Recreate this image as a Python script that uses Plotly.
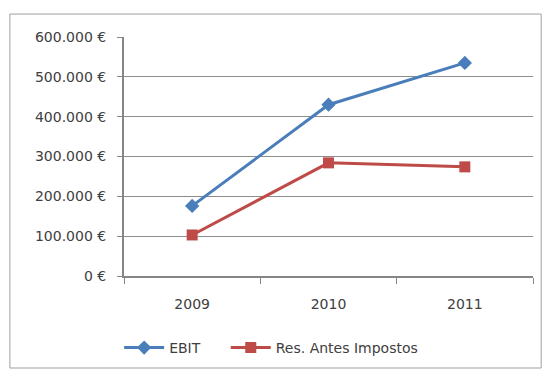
import plotly.graph_objects as go

years = ["2009", "2010", "2011"]
ebit = [176000, 430000, 535000]
res_antes = [103000, 284000, 274000]
ytick_vals = [0, 100000, 200000, 300000, 400000, 500000, 600000]
ytick_text = ["0 €", "100.000 €", "200.000 €", "300.000 €", "400.000 €", "500.000 €", "600.000 €"]

font = dict(family="DejaVu Sans, sans-serif", size=14, color="#404040")

fig = go.Figure()
fig.add_trace(go.Scatter(
    x=years, y=ebit, name="EBIT", mode="lines+markers",
    line=dict(color="#4A7EBB", width=3),
    marker=dict(symbol="diamond", size=11, color="#4A7EBB"),
    legend="legend",
))
fig.add_trace(go.Scatter(
    x=years, y=res_antes, name="Res. Antes Impostos", mode="lines+markers",
    line=dict(color="#BE4B48", width=3),
    marker=dict(symbol="square", size=11, color="#BE4B48"),
    legend="legend2",
))

leg_common = dict(orientation="h", xanchor="left", xref="container", yref="container",
                  y=0.057, yanchor="middle",
                  font=font, bgcolor="rgba(0,0,0,0)", itemwidth=40)

fig.update_layout(
    width=544, height=369,
    margin=dict(l=124, r=11, t=37, b=93),
    paper_bgcolor="white", plot_bgcolor="white",
    font=font,
    showlegend=True,
    legend=dict(x=0.219, **leg_common),
    legend2=dict(x=0.415, **leg_common),
    shapes=[dict(type="rect", xref="paper", yref="paper",
                 x0=-0.279, x1=1.02, y0=-0.385, y1=1.096,
                 line=dict(color="#A0A0A0", width=1), layer="below")],
)
fig.update_xaxes(
    type="category", range=[-0.5, 2.5], tickson="boundaries", ticks="outside", ticklen=6, tickwidth=1,
    tickcolor="#868686", showline=True, linecolor="#868686", linewidth=2,
    showgrid=False, zeroline=False, tickfont=font, ticklabelstandoff=14, automargin=False,
)
fig.update_yaxes(
    range=[0, 600000], tickvals=ytick_vals, ticktext=ytick_text,
    ticks="outside", ticklen=5, tickcolor="#868686", tickwidth=1,
    showline=True, linecolor="#868686", linewidth=2,
    showgrid=True, gridcolor="#8C8C8C", gridwidth=1, zeroline=False,
    tickfont=font, ticklabelstandoff=8, automargin=False,
)

fig.write_html("out.html")
